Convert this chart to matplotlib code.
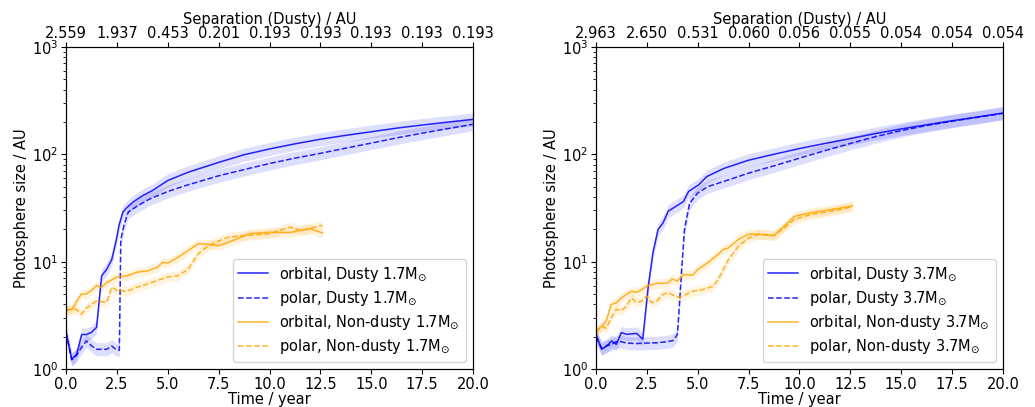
import matplotlib
matplotlib.use("Agg")
import matplotlib.pyplot as plt
import numpy as np

# ---- left panel (1.7 Msun) ----
t_orb_d_1 = [0, 0.28, 0.52, 0.77, 1.0, 1.25, 1.5, 1.75, 2.0, 2.25, 2.5, 2.6, 2.8, 3.0, 3.3,
             3.75, 4.25, 5.0, 6.0, 7.5, 8.75, 10.0, 11.25, 12.5, 13.75, 15.0, 16.25, 17.5, 18.75, 20.0]
y_orb_d_1 = [2.2, 1.24, 1.37, 2.1, 2.1, 2.2, 2.45, 7.4, 8.5, 10.5, 17, 21.7, 29, 32, 36,
             41, 46, 57, 68, 84, 99, 112, 125, 138, 150, 162, 175, 187, 199, 211]
t_pol_d_1 = [0, 0.28, 0.52, 0.77, 1.0, 1.25, 1.5, 2.0, 2.25, 2.45, 2.62, 2.69, 2.85, 3.06, 3.5,
             4.13, 5.0, 6.0, 7.5, 8.75, 10.0, 11.25, 12.5, 13.75, 15.0, 16.25, 17.5, 18.75, 20.0]
y_pol_d_1 = [2.2, 1.22, 1.35, 1.6, 1.83, 1.65, 1.53, 1.53, 1.64, 1.53, 1.5, 16, 22, 29, 33,
             38.5, 45, 52, 63, 72, 82, 92, 102, 114, 127, 142, 157, 173, 190]
t_orb_n_1 = [0, 0.3, 0.5, 0.75, 1.0, 1.25, 1.5, 1.75, 2.0, 2.5, 2.75, 3.0, 3.5, 4.0, 4.5, 4.75,
             5.0, 5.5, 6.5, 7.0, 7.5, 8.0, 9.0, 10.0, 11.0, 12.0, 12.6]
y_orb_n_1 = [3.6, 3.6, 4.2, 5.0, 5.0, 5.4, 6.0, 5.8, 6.4, 7.2, 7.3, 7.4, 8.0, 8.2, 8.9, 9.9,
             9.7, 11.0, 14.7, 14.5, 14.1, 15.2, 18.2, 18.8, 18.7, 20.3, 18.5]
t_pol_n_1 = [0, 0.3, 0.5, 0.75, 1.0, 1.5, 2.0, 2.25, 2.5, 3.0, 3.5, 4.0, 4.5, 5.0, 5.5, 6.0,
             6.5, 7.0, 7.5, 8.0, 9.0, 10.0, 11.0, 11.5, 12.0, 12.5, 12.6]
y_pol_n_1 = [3.5, 3.6, 3.6, 3.25, 3.7, 4.3, 4.2, 5.8, 5.4, 5.3, 5.8, 6.2, 6.7, 7.2, 7.4, 8.5,
             11.9, 14.1, 15.6, 17.0, 17.6, 18.2, 21.0, 19.6, 20.3, 21.8, 21.4]
sep_labels_1 = ["2.559", "1.937", "0.453", "0.201", "0.193", "0.193", "0.193", "0.193", "0.193"]

# ---- right panel (3.7 Msun) ----
t_orb_d_2 = [0, 0.28, 0.52, 0.77, 1.0, 1.25, 1.5, 2.0, 2.3, 2.57, 2.8, 3.05, 3.3, 3.55, 4.3,
             4.55, 5.05, 5.45, 6.3, 7.5, 8.75, 10.0, 11.25, 12.5, 13.75, 15.0, 16.25, 17.5, 18.75, 20.0]
y_orb_d_2 = [2.11, 1.53, 1.64, 1.83, 1.70, 2.19, 2.11, 2.15, 1.9, 5.9, 12.1, 19.9, 23, 29.5, 36.3,
             45, 52, 62, 74, 88, 100, 113, 126, 140, 156, 172, 188, 205, 222, 242]
t_pol_d_2 = [0, 0.28, 0.5, 0.75, 1.0, 1.25, 1.5, 2.0, 2.5, 3.0, 3.5, 3.8, 4.0, 4.1, 4.2, 4.35,
             4.6, 5.0, 5.5, 6.25, 7.5, 8.75, 10.0, 11.25, 12.5, 13.75, 15.0, 16.25, 17.5, 18.75, 20.0]
y_pol_d_2 = [2.0, 1.57, 1.64, 1.7, 1.8, 1.8, 1.75, 1.73, 1.75, 1.76, 1.8, 1.85, 2.1, 3.9, 7.9, 19.9,
             35, 43.5, 50, 55.6, 66.7, 78, 92, 108, 126, 146, 166, 185, 203, 221, 240]
t_orb_n_2 = [0, 0.3, 0.5, 0.75, 1.0, 1.25, 1.5, 1.75, 2.0, 2.25, 2.5, 3.0, 3.5, 3.75, 4.0, 4.3,
             4.75, 5.0, 5.5, 6.0, 6.25, 6.5, 7.0, 7.5, 8.0, 8.75, 9.25, 9.75, 10.5, 11.0, 12.0, 12.6]
y_orb_n_2 = [2.27, 2.52, 2.8, 4.0, 4.15, 4.6, 4.96, 5.3, 5.2, 5.5, 5.93, 6.3, 6.3, 6.9, 6.6, 7.6,
             7.5, 8.45, 9.8, 11.7, 13.0, 13.4, 16.1, 18.1, 18.0, 17.5, 21.4, 26.4, 28.4, 29.4, 31.5, 33]
t_pol_n_2 = [0, 0.3, 0.5, 0.75, 1.0, 1.25, 1.5, 1.75, 2.0, 2.25, 2.5, 2.75, 3.0, 3.25, 3.5, 4.0,
             4.25, 4.75, 5.25, 5.75, 6.0, 6.5, 7.0, 7.5, 8.0, 8.75, 9.25, 9.75, 10.5, 11.0, 12.0, 12.6]
y_pol_n_2 = [2.2, 2.5, 2.4, 3.0, 3.6, 3.5, 3.86, 4.6, 4.15, 4.3, 4.8, 4.15, 4.3, 4.9, 5.15, 4.7,
             4.8, 5.3, 5.5, 5.9, 6.8, 10.4, 13.9, 16.6, 18.0, 17.5, 20.6, 24.7, 27.3, 28.3, 30.5, 32.6]
sep_labels_2 = ["2.963", "2.650", "0.531", "0.060", "0.056", "0.055", "0.054", "0.054", "0.054"]

top_ticks = [0, 2.5, 5, 7.5, 10, 12.5, 15, 17.5, 20]
BAND_DUSTY = 1.15
BAND_NONDUSTY = 1.11

FS = 10.5


def draw_panel(ax, series, mass, sep_labels):
    for t, y, color, ls, band, label in series:
        t = np.asarray(t)
        y = np.asarray(y)
        ax.fill_between(t, y / band, y * band, color=color, alpha=0.13, lw=0)
        ax.plot(t, y, color=color, ls=ls, lw=1.1, alpha=0.85,
                label=label.format(mass=mass))
    ax.set_yscale("log")
    ax.set_xlim(0, 20)
    ax.set_ylim(1, 1000)
    ax.set_xticks(top_ticks)
    ax.set_xlabel("Time / year", fontsize=FS, labelpad=0)
    ax.set_ylabel("Photosphere size / AU", fontsize=FS, labelpad=2)
    ax.tick_params(labelsize=FS, pad=2)
    ax.legend(loc="lower right", fontsize=FS, labelspacing=0.38)
    top = ax.twiny()
    top.set_xlim(0, 20)
    top.set_xticks(top_ticks)
    top.set_xticklabels(sep_labels)
    top.tick_params(labelsize=FS, pad=1)
    top.set_xlabel("Separation (Dusty) / AU", fontsize=FS, labelpad=1)


fig = plt.figure(figsize=(10.35, 4.07), dpi=100)
ax1 = fig.add_axes([0.0638, 0.093, 0.3932, 0.792])
ax2 = fig.add_axes([0.5758, 0.093, 0.3932, 0.792])

series1 = [
    (t_orb_d_1, y_orb_d_1, "blue", "-", BAND_DUSTY, "orbital, Dusty {mass}M$_{{\\odot}}$"),
    (t_pol_d_1, y_pol_d_1, "blue", "--", BAND_DUSTY, "polar, Dusty {mass}M$_{{\\odot}}$"),
    (t_orb_n_1, y_orb_n_1, "orange", "-", BAND_NONDUSTY, "orbital, Non-dusty {mass}M$_{{\\odot}}$"),
    (t_pol_n_1, y_pol_n_1, "orange", "--", BAND_NONDUSTY, "polar, Non-dusty {mass}M$_{{\\odot}}$"),
]
series2 = [
    (t_orb_d_2, y_orb_d_2, "blue", "-", BAND_DUSTY, "orbital, Dusty {mass}M$_{{\\odot}}$"),
    (t_pol_d_2, y_pol_d_2, "blue", "--", BAND_DUSTY, "polar, Dusty {mass}M$_{{\\odot}}$"),
    (t_orb_n_2, y_orb_n_2, "orange", "-", BAND_NONDUSTY, "orbital, Non-dusty {mass}M$_{{\\odot}}$"),
    (t_pol_n_2, y_pol_n_2, "orange", "--", BAND_NONDUSTY, "polar, Non-dusty {mass}M$_{{\\odot}}$"),
]

draw_panel(ax1, series1, "1.7", sep_labels_1)
draw_panel(ax2, series2, "3.7", sep_labels_2)

fig.savefig("out.png", dpi=100)
